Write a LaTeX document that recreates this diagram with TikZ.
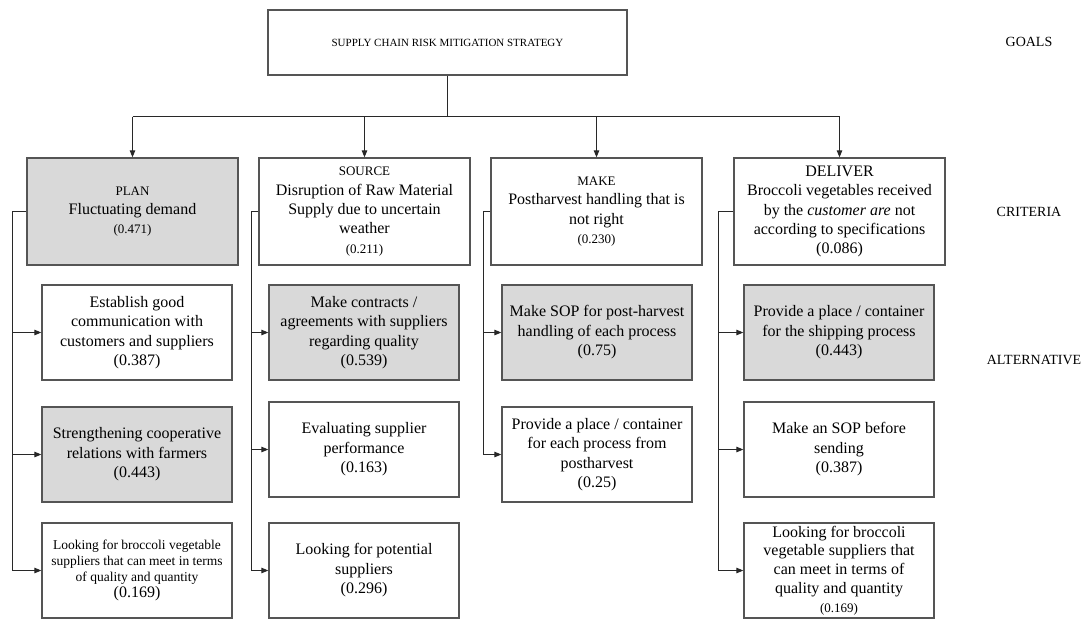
\documentclass[tikz,border=0pt]{standalone}
\usepackage{fontspec}
\setmainfont{Liberation Serif}
\usepackage{tikz}
\usetikzlibrary{arrows.meta}
\definecolor{boxgray}{RGB}{85,85,85}
\definecolor{boxfill}{RGB}{217,217,217}
\definecolor{linkgray}{RGB}{40,40,40}
\newcommand{\smalltext}[1]{{\fontsize{13}{16}\selectfont #1}}
\tikzset{
    tnode/.style = {align=center, inner sep=0pt, text centered},
    box_node/.style = {tnode, rectangle, draw=boxgray, line width=1.3pt, fill=white},
    goal_node/.style = {box_node, minimum width=359pt, minimum height=65pt, font=\fontsize{11}{13}\selectfont},
    crit_node/.style = {box_node, minimum width=211pt, minimum height=107pt, font=\fontsize{16}{19.3}\selectfont},
    alt_node/.style = {box_node, minimum width=190pt, minimum height=95pt, font=\fontsize{16}{19.5}\selectfont},
    grey_node/.style = {fill=boxfill},
    side_label/.style = {tnode, font=\fontsize{14}{16}\selectfont},
    link/.style = {draw=linkgray, line width=1pt}
}
\begin{document}
\begin{tikzpicture}
    [x=1pt, y=-1pt, >={Triangle[length=7pt, width=5.5pt]}]
    \useasboundingbox (0,0) rectangle (1085,619);

    % goal
    \node [goal_node] (goal) at (447.5,42.5) {SUPPLY CHAIN RISK MITIGATION STRATEGY};
    \coordinate (bus) at (447.5,116.5);

    % criteria
    \node [crit_node, grey_node] (plan) at (132.5,211.5)
        {\smalltext{PLAN}\\Fluctuating demand\\\smalltext{(0.471)}};
    \node [crit_node] (source) at (364.5,211.5)
        {\smalltext{SOURCE}\\Disruption of Raw Material\\Supply due to uncertain\\weather\\\smalltext{(0.211)}};
    \node [crit_node] (make) at (596.5,211.5)
        {\smalltext{MAKE}\\Postharvest handling that is\\not right\\\smalltext{(0.230)}};
    \node [crit_node] (deliver) at (839.5,211.5)
        {DELIVER\\Broccoli vegetables received\\by the \textit{customer are} not\\according to specifications\\(0.086)};

    % alternatives
    \node [alt_node] (p1) at (137,332.5)
        {Establish good\\communication with\\customers and suppliers\\(0.387)};
    \node [alt_node, grey_node] (p2) at (137,454.5)
        {Strengthening cooperative\\relations with farmers\\(0.443)};
    \node [alt_node, font=\fontsize{13.5}{16}\selectfont] (p3) at (137,570.5)
        {Looking for broccoli vegetable\\suppliers that can meet in terms\\of quality and quantity\\{\fontsize{16}{19}\selectfont(0.169)}};

    \node [alt_node, grey_node] (s1) at (364,332.5)
        {Make contracts /\\agreements with suppliers\\regarding quality\\(0.539)};
    \node [alt_node] (s2) at (364,449.5)
        {Evaluating supplier\\performance\\(0.163)};
    \node [alt_node] (s3) at (364,570.5)
        {Looking for potential\\suppliers\\(0.296)};

    \node [alt_node, grey_node] (m1) at (597,332.5)
        {Make SOP for post-harvest\\handling of each process\\(0.75)};
    \node [alt_node] (m2) at (597,454.5)
        {Provide a place / container\\for each process from\\postharvest\\(0.25)};

    \node [alt_node, grey_node] (d1) at (839,332.5)
        {Provide a place / container\\for the shipping process\\(0.443)};
    \node [alt_node] (d2) at (839,449.5)
        {Make an SOP before\\sending\\(0.387)};
    \node [alt_node, font=\fontsize{16}{18.8}\selectfont] (d3) at (839,570.5)
        {Looking for broccoli\\vegetable suppliers that\\can meet in terms of\\quality and quantity\\\smalltext{(0.169)}};

    % levels
    \node [side_label] (goals) at (1029,42) {GOALS};
    \node [side_label] (criteria) at (1029,212) {CRITERIA};
    \node [side_label] (alternative) at (1034,360) {ALTERNATIVE};

    % goal -> criteria
    \draw [link] (goal.south) -- (bus);
    \draw [link] (plan.north |- bus) -- (deliver.north |- bus);
    \foreach \c in {plan, source, make, deliver}
        \draw [link, ->] (\c.north |- bus) -- (\c.north);

    % criteria -> alternatives
    \coordinate (plan_spine) at (12.5,211.5);
    \coordinate (source_spine) at (251.5,211.5);
    \coordinate (make_spine) at (483.5,211.5);
    \coordinate (deliver_spine) at (718.5,211.5);
    \draw [link, ->] (plan.west) -- (plan_spine) |- (p3.west);
    \foreach \a in {p1, p2}
        \draw [link, ->] (plan_spine |- \a.west) -- (\a.west);
    \draw [link, ->] (source.west) -- (source_spine) |- (s3.west);
    \foreach \a in {s1, s2}
        \draw [link, ->] (source_spine |- \a.west) -- (\a.west);
    \draw [link, ->] (make.west) -- (make_spine) |- (m2.west);
    \draw [link, ->] (make_spine |- m1.west) -- (m1.west);
    \draw [link, ->] (deliver.west) -- (deliver_spine) |- (d3.west);
    \foreach \a in {d1, d2}
        \draw [link, ->] (deliver_spine |- \a.west) -- (\a.west);
\end{tikzpicture}
\end{document}
